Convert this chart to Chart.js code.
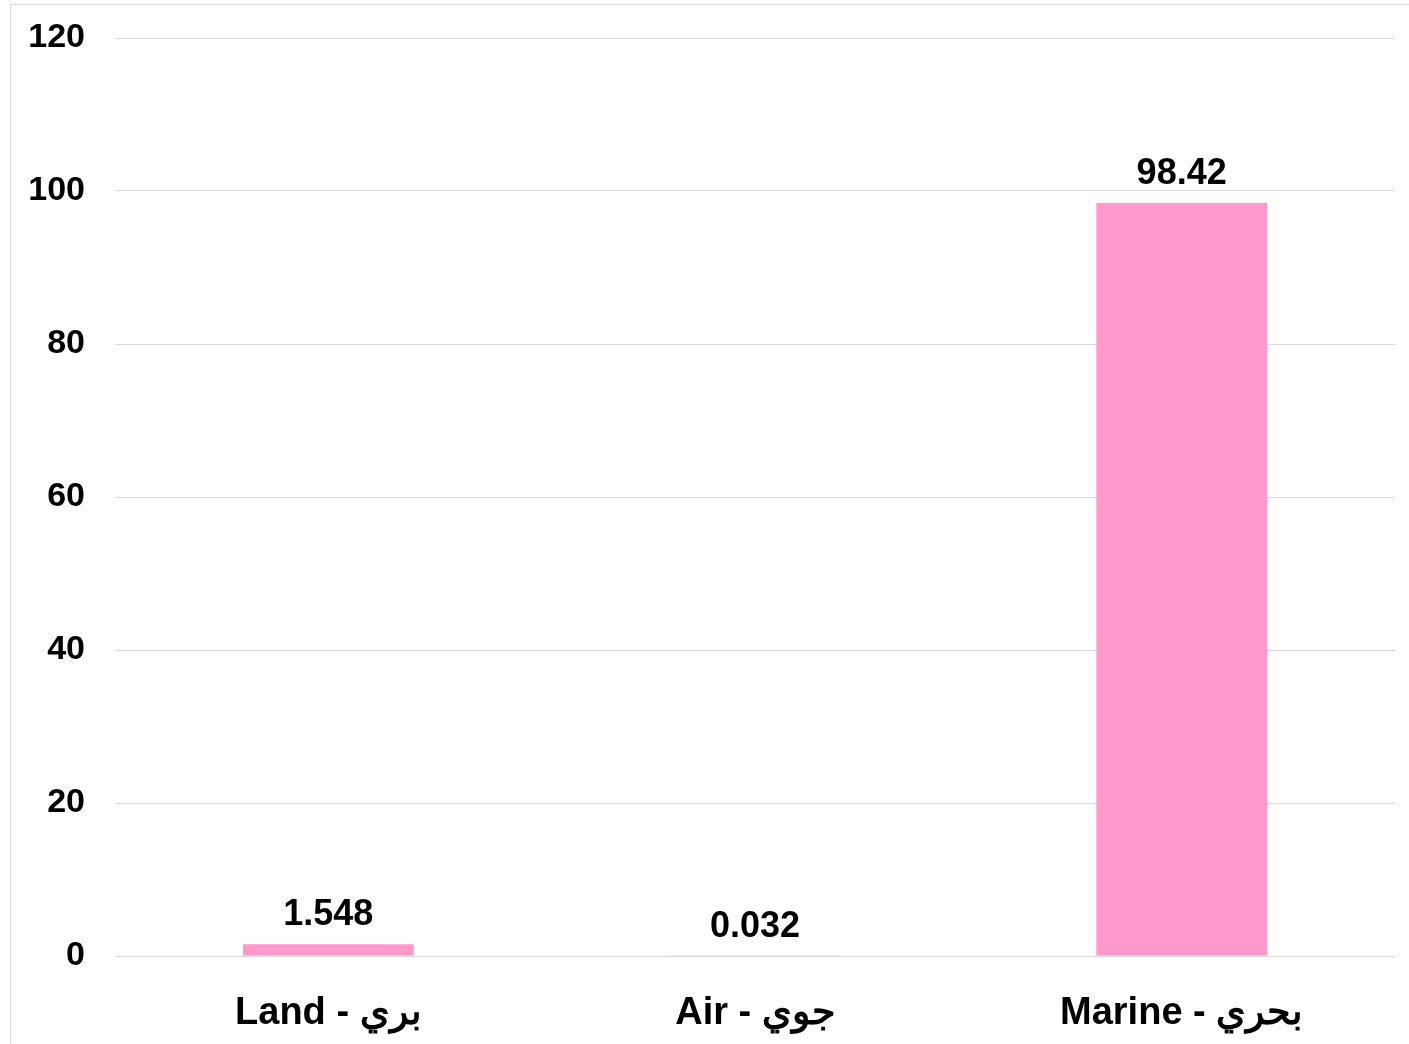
<!DOCTYPE html>
<html>
<head>
<meta charset="utf-8">
<script src="https://cdn.jsdelivr.net/npm/chart.js@4"></script>
<style>
    html, body { margin: 0; padding: 0; background: #fff; }
    #wrap { position: relative; width: 1409px; height: 1044px; }
    #frame { position: absolute; left: 10px; top: 4px; width: 1420px; height: 1060px; border: 1px solid #d9d9d9; box-sizing: border-box; }
    canvas { position: absolute; left: 0; top: 0; }
</style>
</head>
<body>
<div id="wrap">
    <div id="frame"></div>
    <canvas id="chart" width="1409" height="1044"></canvas>
</div>
<script>
const categories = ['Land - بري', 'Air - جوي', 'Marine - بحري'];
const values = [1.548, 0.032, 98.42];
const valueLabels = ['1.548', '0.032', '98.42'];
const yTicks = [0, 20, 40, 60, 80, 100, 120];

const FONT = "'Liberation Sans', Arial, sans-serif";
const PINK = '#FF99CC';

// draws the numbers above each bar
const valueLabelPlugin = {
    id: 'valueLabels',
    afterDatasetsDraw(chart) {
        const ctx = chart.ctx;
        const meta = chart.getDatasetMeta(0);
        ctx.save();
        ctx.font = 'bold 36px ' + FONT;
        ctx.fillStyle = '#000';
        ctx.textAlign = 'center';
        ctx.textBaseline = 'alphabetic';
        meta.data.forEach((bar, i) => {
            ctx.fillText(valueLabels[i], bar.x, bar.y - 19);
        });
        ctx.restore();
    }
};

const config = {
    type: 'bar',
    data: {
        labels: categories,
        datasets: [{
            data: values,
            backgroundColor: PINK,
            barPercentage: 0.4,
            categoryPercentage: 1.0
        }]
    },
    options: {
        responsive: false,
        animation: false,
        layout: { padding: { top: 38, right: 14, left: 0, bottom: 0 } },
        plugins: {
            legend: { display: false },
            tooltip: { enabled: false }
        },
        scales: {
            x: {
                grid: { display: false },
                border: { display: false },
                ticks: {
                    color: '#000',
                    font: { family: FONT, size: 38, weight: 'bold' },
                    padding: 27
                },
                afterFit(scale) { scale.height = 88; }
            },
            y: {
                min: 0,
                max: 120,
                afterBuildTicks(scale) { scale.ticks = yTicks.map(v => ({ value: v })); },
                grid: { color: '#d9d9d9', lineWidth: 1, drawTicks: false },
                border: { display: false },
                ticks: {
                    color: '#000',
                    font: { family: FONT, size: 34, weight: 'bold' },
                    padding: 30
                },
                afterFit(scale) {
                    scale.width = 115;
                    scale.paddingTop = 0;
                    scale.paddingBottom = 0;
                }
            }
        }
    },
    plugins: [valueLabelPlugin]
};

const barChart = new Chart(document.getElementById('chart'), config);
</script>
</body>
</html>
